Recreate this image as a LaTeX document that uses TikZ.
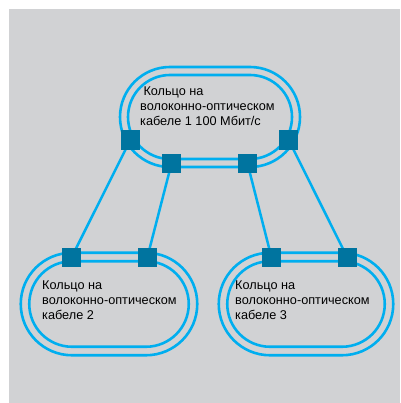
\documentclass[tikz,border=0pt]{standalone}
\usepackage{fontspec}
\setmainfont{Liberation Sans}
\definecolor{bgc}{HTML}{D1D2D4}
\definecolor{ringc}{HTML}{00AEEF}
\definecolor{nodec}{HTML}{00749F}
\tikzset{
  ringline/.style={draw=ringc, line width=2.6pt},
  link/.style={draw=ringc, line width=2.5pt},
  port/.style={fill=nodec, draw=none, minimum size=19pt, inner sep=0pt},
  label/.style={font=\fontsize{12.7}{15}\selectfont, align=left, anchor=north west, inner sep=0pt, text=black}
}
\begin{document}
\begin{tikzpicture}[x=1pt,y=-1pt]
\useasboundingbox (0,0) rectangle (400,403);
\fill[white] (0,0) rectangle (400,403);
\fill[bgc] (9,9) rectangle (400,403);
% top ring
\draw[ringline, rounded corners=50pt] (120,67) rectangle (300,167);
\draw[ringline, rounded corners=42pt] (128,75) rectangle (292,159);
% bottom left ring
\draw[ringline, rounded corners=51.25pt] (20.75,252.75) rectangle (197.25,355.25);
\draw[ringline, rounded corners=42.75pt] (29.25,261.25) rectangle (188.75,346.75);
% bottom right ring
\draw[ringline, rounded corners=51.25pt] (218.75,252.75) rectangle (393.25,355.25);
\draw[ringline, rounded corners=42.75pt] (227.25,261.25) rectangle (384.75,346.75);
% ports
\node[port] (t1) at (130.3,140) {};
\node[port] (t2) at (171.5,163.5) {};
\node[port] (t3) at (247.5,163.5) {};
\node[port] (t4) at (288.7,140) {};
\node[port] (l1) at (71.5,257.5) {};
\node[port] (l2) at (147.3,257.5) {};
\node[port] (r1) at (271.5,257.5) {};
\node[port] (r2) at (347.3,257.5) {};
% links
\draw[link] (t1.center) -- (l1.center);
\draw[link] (t2.center) -- (l2.center);
\draw[link] (t3.center) -- (r1.center);
\draw[link] (t4.center) -- (r2.center);
% redraw ports on top
\foreach \n in {t1,t2,t3,t4,l1,l2,r1,r2} {
  \fill[nodec] (\n.south west) rectangle (\n.north east);
}
% labels
\node[label] (tt) at (140,87) {\hspace*{3.3pt}Кольцо на\\волоконно-оптическом\\кабеле 1 100 Мбит/с};
\node[label] (lt) at (42,281) {Кольцо на\\волоконно-оптическом\\кабеле 2};
\node[label] (rt) at (235,281) {Кольцо на\\волоконно-оптическом\\кабеле 3};
\end{tikzpicture}
\end{document}
